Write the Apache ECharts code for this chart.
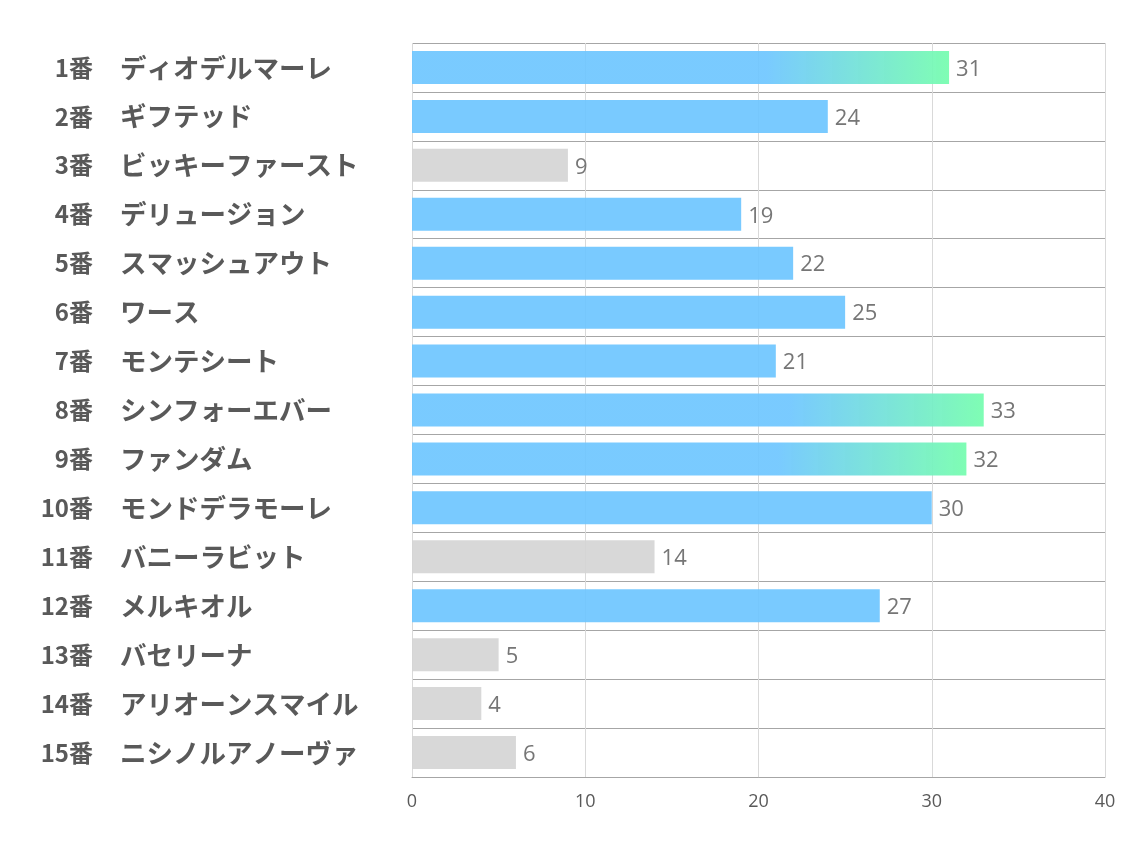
<!DOCTYPE html>
<html>
<head>
<meta charset="utf-8">
<script src="https://cdn.jsdelivr.net/npm/echarts@6/dist/echarts.min.js"></script>
<style>
html,body{margin:0;padding:0;background:#fff;}
#chart{width:1134px;height:850px;}
</style>
</head>
<body>
<div id="chart"></div>
<script>
const numbers = ['1番','2番','3番','4番','5番','6番','7番','8番','9番','10番','11番','12番','13番','14番','15番'];
const horses = ['ディオデルマーレ','ギフテッド','ビッキーファースト','デリュージョン','スマッシュアウト','ワース','モンテシート','シンフォーエバー','ファンダム','モンドデラモーレ','バニーラビット','メルキオル','バセリーナ','アリオーンスマイル','ニシノルアノーヴァ'];
const values = [31,24,9,19,22,25,21,33,32,30,14,27,5,4,6];
const tiers = ['top','mid','low','mid','mid','mid','mid','top','top','mid','low','mid','low','low','low'];
const xTicks = [0,10,20,30,40];

const BLUE = 'rgba(110,198,255,0.92)';
const GREEN = 'rgba(120,253,176,0.95)';
const GRAY = 'rgba(213,213,213,0.92)';

function colorFor(t){
  if (t === 'top') {
    return new echarts.graphic.LinearGradient(0,0,1,0,[
      {offset:0,color:BLUE},{offset:0.66,color:BLUE},{offset:1,color:GREEN}
    ]);
  }
  return t === 'low' ? GRAY : BLUE;
}

const labelFont = {fontWeight:'bold',color:'#595959',fontFamily:'"Noto Sans CJK JP",sans-serif'};

const chart = echarts.init(document.getElementById('chart'));
chart.setOption({
  animation:false,
  grid:{left:412,right:29,top:43,bottom:73,containLabel:false},
  xAxis:{
    type:'value',min:xTicks[0],max:xTicks[xTicks.length-1],interval:10,
    axisLine:{show:true,lineStyle:{color:'#a6a6a6',width:1}},
    axisTick:{show:false},
    splitLine:{show:true,lineStyle:{color:'#d9d9d9',width:1}},
    axisLabel:{show:true,color:'#595959',fontSize:18,margin:16,fontFamily:'"Open Sans",sans-serif'}
  },
  yAxis:[{
    type:'category',inverse:true,
    data:horses,
    axisLine:{show:false},axisTick:{show:false},
    splitLine:{show:true,lineStyle:{color:'#a6a6a6',width:1}},
    axisLabel:Object.assign({margin:292,align:'left',fontSize:26.5},labelFont)
  },{
    type:'category',inverse:true,position:'left',
    data:numbers,
    axisLine:{show:false},axisTick:{show:false},splitLine:{show:false},
    axisLabel:Object.assign({margin:319,align:'right',fontSize:24},labelFont)
  }],
  series:[{
    type:'bar',
    barWidth:33,
    data:values.map((v,i)=>({value:v,itemStyle:{color:colorFor(tiers[i])}})),
    label:{show:true,position:'right',distance:7,offset:[0,2],color:'#767676',fontSize:22,fontFamily:'"Open Sans",sans-serif'}
  }]
});
</script>
</body>
</html>
